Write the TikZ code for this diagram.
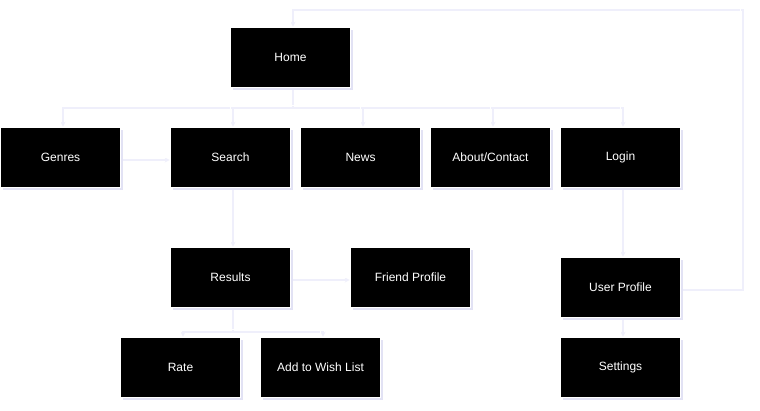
\documentclass[tikz,border=0pt]{standalone}
\usepackage{fontspec}
\setmainfont{Liberation Sans}
\usetikzlibrary{shadows,arrows.meta,calc,backgrounds}
\definecolor{shadowlav}{RGB}{226,226,244}
\definecolor{linelav}{RGB}{239,239,251}
\tikzset{
  box/.style={draw=white, line width=0.6pt, fill=black, text=white,
    minimum width=120pt, minimum height=60pt, inner sep=0pt,
    font=\fontsize{12}{14}\selectfont,
    drop shadow={shadow xshift=2.5pt, shadow yshift=-2.5pt, fill=shadowlav, opacity=1}},
  conn/.style={linelav, line width=2.5pt, -{Stealth[length=5pt,width=5pt]},
    shorten >=3pt, transform canvas={shift={(2.5pt,-2.5pt)}}},
  connw/.style={white, line width=0.8pt, shorten >=3pt},
}
\begin{document}
\begin{tikzpicture}[x=1pt,y=-1pt]
\useasboundingbox (0,0) rectangle (760,410);
% nodes
\node[box] (home) at (290.5,57.5) {Home};
\node[box] (genres) at (60.5,157.5) {Genres};
\node[box] (search) at (230.5,157.5) {Search};
\node[box] (news) at (360.5,157.5) {News};
\node[box] (about) at (490.5,157.5) {About/Contact};
\node[box] (login) at (620.5,157.5) {Login};
\node[box] (results) at (230.5,277.5) {Results};
\node[box] (friend) at (410.5,277.5) {Friend Profile};
\node[box] (rate) at (180.5,367.5) {Rate};
\node[box] (wish) at (320.5,367.5) {Add to Wish List};
\node[box] (user) at (620.5,287.5) {User Profile};
\node[box] (settings) at (620.5,367.5) {Settings};
\coordinate (topR) at (740.5,7.5);
\coordinate (hbus) at (290.5,105.5);
\coordinate (rbus) at (230.5,329.5);
\begin{pgfonlayer}{background}
\fill[white] (0,0) rectangle (760,410);
\foreach \t in {genres,search,news,about,login}{
  \draw[conn] (home.south) |- (hbus) -| (\t.north);
}
\draw[conn] (genres.east) -- (search.west);
\draw[conn] (search.south) -- (results.north);
\draw[conn] (results.east) -- (friend.west);
\draw[conn] (results.south) |- (rbus) -| (rate.north);
\draw[conn] (results.south) |- (rbus) -| (wish.north);
\draw[conn] (login.south) -- (user.north);
\draw[conn] (user.south) -- (settings.north);
\draw[conn] (user.east) -| (topR) -| (home.north);
\foreach \t in {genres,search,news,about,login}{
  \draw[connw] (home.south) |- (hbus) -| (\t.north);
}
\draw[connw] (genres.east) -- (search.west);
\draw[connw] (search.south) -- (results.north);
\draw[connw] (results.east) -- (friend.west);
\draw[connw] (results.south) |- (rbus) -| (rate.north);
\draw[connw] (results.south) |- (rbus) -| (wish.north);
\draw[connw] (login.south) -- (user.north);
\draw[connw] (user.south) -- (settings.north);
\draw[connw] (user.east) -| (topR) -| (home.north);
\end{pgfonlayer}
\end{tikzpicture}
\end{document}
